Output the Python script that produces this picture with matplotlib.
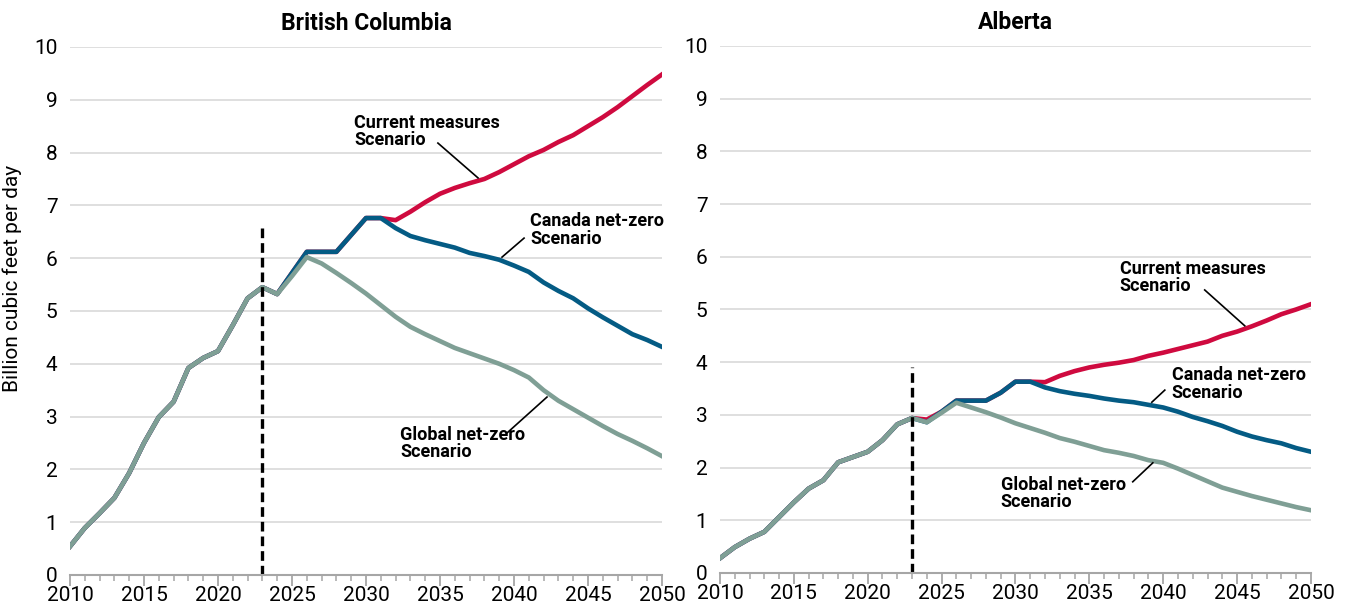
import matplotlib.pyplot as plt
from matplotlib.ticker import MultipleLocator

plt.rcParams['font.family'] = ['Roboto', 'DejaVu Sans']

years = list(range(2010, 2051))

# shared history (2010-2024)
bc_hist = [0.54, 0.89, 1.17, 1.46, 1.93, 2.50, 2.99, 3.28, 3.92, 4.11,
           4.24, 4.73, 5.24, 5.45, 5.32]
ab_hist = [0.28, 0.49, 0.65, 0.78, 1.06, 1.34, 1.60, 1.76, 2.10, 2.20,
           2.30, 2.52, 2.82, 2.94, 2.86]

# British Columbia projections 2025-2050
bc_current = [5.72, 6.12, 6.12, 6.12, 6.44, 6.76, 6.76, 6.72, 6.88, 7.06,
              7.22, 7.33, 7.42, 7.50, 7.63, 7.78, 7.93, 8.05, 8.20, 8.33,
              8.50, 8.67, 8.86, 9.07, 9.28, 9.48]
bc_canada = [5.72, 6.12, 6.12, 6.12, 6.44, 6.76, 6.76, 6.57, 6.42, 6.34,
             6.27, 6.20, 6.10, 6.04, 5.97, 5.86, 5.74, 5.54, 5.38, 5.24,
             5.05, 4.88, 4.72, 4.56, 4.45, 4.32]
bc_global = [5.66, 6.02, 5.90, 5.72, 5.53, 5.33, 5.11, 4.89, 4.70, 4.56,
             4.43, 4.30, 4.20, 4.10, 4.00, 3.88, 3.74, 3.50, 3.30, 3.14,
             2.98, 2.82, 2.67, 2.54, 2.40, 2.25]

# Alberta projections 2025-2050
ab_current = [3.06, 3.27, 3.27, 3.27, 3.42, 3.63, 3.63, 3.62, 3.74, 3.83,
              3.90, 3.95, 3.99, 4.04, 4.12, 4.18, 4.25, 4.32, 4.39, 4.50,
              4.58, 4.68, 4.79, 4.91, 5.00, 5.10]
ab_canada = [3.06, 3.27, 3.27, 3.27, 3.42, 3.63, 3.63, 3.52, 3.45, 3.40,
             3.36, 3.31, 3.27, 3.24, 3.19, 3.14, 3.06, 2.96, 2.88, 2.79,
             2.68, 2.59, 2.52, 2.46, 2.37, 2.30]
ab_global = [3.04, 3.23, 3.14, 3.05, 2.95, 2.84, 2.75, 2.66, 2.56, 2.49,
             2.41, 2.33, 2.28, 2.22, 2.14, 2.09, 1.98, 1.86, 1.74, 1.62,
             1.54, 1.46, 1.39, 1.32, 1.25, 1.19]
ab_current_2024 = 2.91

RED = '#cf0a3f'
BLUE = '#045b84'
GREEN = '#7f9f95'

fig = plt.figure(figsize=(13.48, 6.1), dpi=100)
ax1 = fig.add_axes([0.0519, 0.0574, 0.4392, 0.8656])
ax2 = fig.add_axes([0.5341, 0.0607, 0.4384, 0.8640])


def panel(ax, title, hist, cur, can, glo, cur24, dash_top, notes):
    cur_line = hist[:-1] + [cur24] + cur
    can_line = hist + can
    glo_line = hist + glo
    ax.plot(years, cur_line, color=RED, lw=3.3, solid_joinstyle='round')
    ax.plot(years, can_line, color=BLUE, lw=3.3, solid_joinstyle='round')
    ax.plot(years, glo_line, color=GREEN, lw=3.3, solid_joinstyle='round')
    ax.plot([2023, 2023], [0, dash_top], color='black', lw=2.4,
            ls=(0, (2.9, 1.5)))
    ax.set_xlim(2010, 2050)
    ax.set_ylim(0, 10)
    ax.set_yticks(range(0, 11))
    ax.set_xticks(range(2010, 2051, 5))
    ax.xaxis.set_minor_locator(MultipleLocator(1))
    ax.grid(axis='y', color='#d9d9d9', lw=1.2)
    ax.set_axisbelow(True)
    for s in ['top', 'right', 'left']:
        ax.spines[s].set_visible(False)
    ax.spines['bottom'].set_color('#a6a6a6')
    ax.spines['bottom'].set_linewidth(1.5)
    ax.tick_params(axis='y', length=0, labelsize=15, pad=9)
    ax.tick_params(axis='x', which='major', length=8, width=1.3,
                   color='#a6a6a6', labelsize=15, pad=0)
    ax.tick_params(axis='x', which='minor', length=4, width=1.1,
                   color='#a6a6a6')
    ax.set_title(title, fontsize=16.5, fontweight='bold', pad=12)
    for txt, tx, ty, x0, y0, x1, y1 in notes:
        ax.text(tx, ty, txt, fontsize=13, fontweight='bold', ha='left',
                va='top', linespacing=0.95)
        ax.plot([x0, x1], [y0, y1], color='black', lw=1.2)


panel(ax1, 'British Columbia', bc_hist, bc_current, bc_canada, bc_global,
      bc_hist[-1], 6.65,
      [('Current measures\nScenario', 2029.2, 8.74, 2034.86, 8.18, 2037.57, 7.52),
       ('Canada net-zero\nScenario', 2041.1, 6.87, 2040.68, 6.38, 2039.19, 6.02),
       ('Global net-zero\nScenario', 2032.3, 2.82, 2039.53, 2.69, 2042.23, 3.37)])
panel(ax2, 'Alberta', ab_hist, ab_current, ab_canada, ab_global,
      ab_current_2024, 3.9,
      [('Current measures\nScenario', 2037.06, 5.94, 2042.81, 5.37, 2045.52, 4.69),
       ('Canada net-zero\nScenario', 2040.58, 3.92, 2040.11, 3.47, 2039.23, 3.24),
       ('Global net-zero\nScenario', 2029.01, 1.84, 2037.94, 1.73, 2039.3, 2.09)])

ax1.set_ylabel('Billion cubic feet per day', fontsize=15)
ax1.yaxis.set_label_coords(-0.081, 0.5625)

fig.savefig('out.png', dpi=100)
